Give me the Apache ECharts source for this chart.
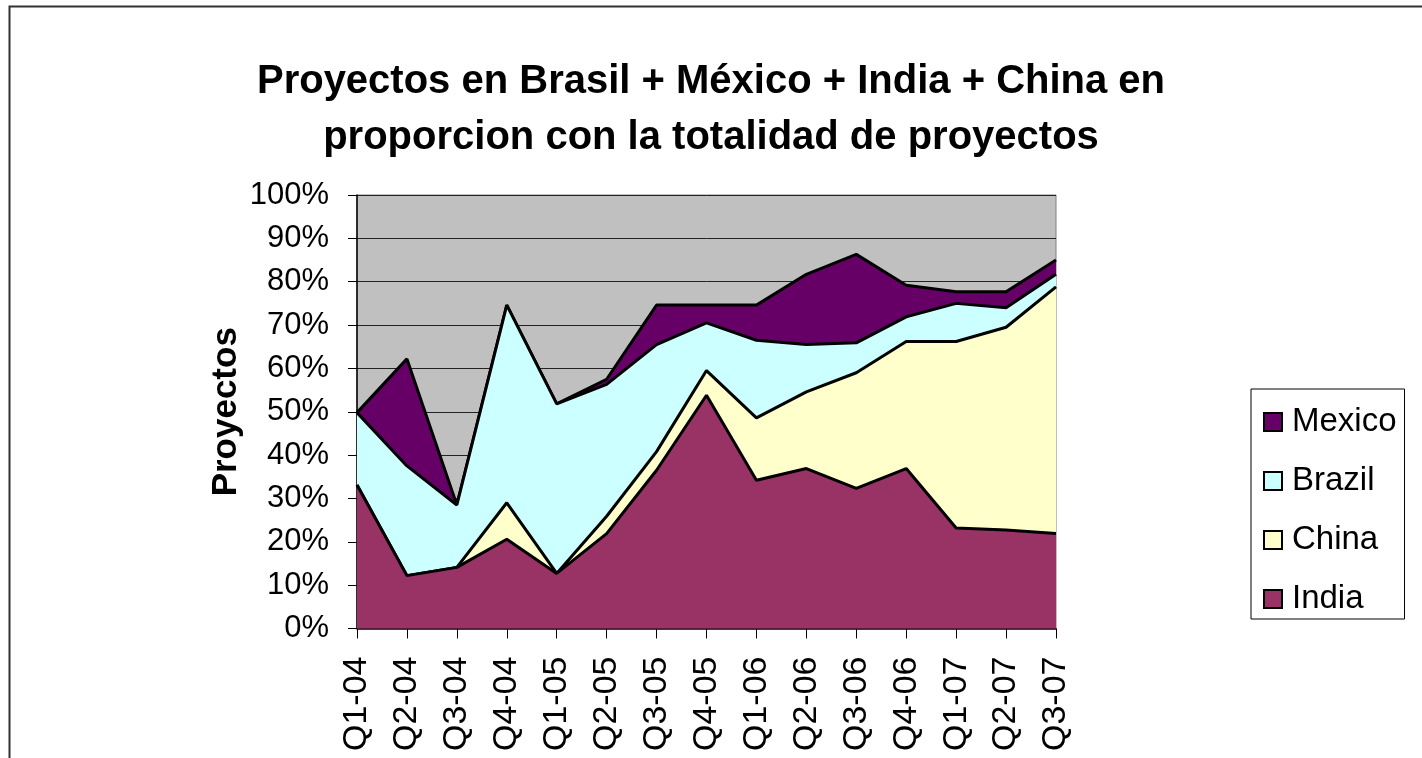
<!DOCTYPE html>
<html>
<head>
<meta charset="utf-8">
<script src="https://cdn.jsdelivr.net/npm/echarts@6/dist/echarts.min.js"></script>
<style>
  html, body { margin: 0; padding: 0; background: #fff; }
  #chart { width: 1422px; height: 758px; }
</style>
</head>
<body>
<div id="chart"></div>
<script>
// quarters on the x axis
const quarters = ['Q1-04', 'Q2-04', 'Q3-04', 'Q4-04', 'Q1-05', 'Q2-05', 'Q3-05', 'Q4-05',
  'Q1-06', 'Q2-06', 'Q3-06', 'Q4-06', 'Q1-07', 'Q2-07', 'Q3-07'];

// share of all projects, in %, stacked bottom to top
const india = [33.1, 12.2, 14.1, 20.6, 12.7, 21.9, 36.5, 53.8, 34.2, 36.9, 32.3, 36.9, 23.2, 22.7, 21.9];
const china = [0, 0, 0, 8.4, 0, 4.0, 4.3, 5.7, 14.4, 17.7, 26.7, 29.3, 43.0, 46.8, 56.9];
const brazil = [16.7, 25.3, 14.4, 45.6, 39.1, 30.4, 24.7, 11.0, 17.9, 10.9, 6.9, 5.7, 8.8, 4.5, 2.9];
const mexico = [0, 24.7, 0, 0, 0, 1.2, 9.1, 4.1, 8.1, 16.2, 20.4, 7.3, 2.7, 3.7, 3.3];

const legendOrder = ['Mexico', 'Brazil', 'China', 'India'];

const chart = echarts.init(document.getElementById('chart'));

// lower layers get a higher z so their outline stays on top of the next fill
function area(name, data, color, z) {
  return {
    name: name,
    type: 'line',
    stack: 'total',
    z: z,
    data: data,
    showSymbol: false,
    symbol: 'none',
    itemStyle: { color: color },
    lineStyle: { color: '#000', width: 3 },
    areaStyle: { color: color, opacity: 1 }
  };
}

const option = {
  animation: false,
  textStyle: { fontFamily: 'Liberation Sans, Arial, sans-serif' },
  graphic: [{
    type: 'rect',
    shape: { x: 9.5, y: 6.5, width: 1430, height: 800 },
    style: { fill: 'none', stroke: '#333', lineWidth: 2 },
    silent: true
  }],
  title: {
    text: 'Proyectos en Brasil + México + India + China en\nproporcion con la totalidad de proyectos',
    left: 'center',
    top: 49,
    textStyle: {
      fontSize: 40,
      fontWeight: 'bold',
      color: '#000',
      lineHeight: 56
    }
  },
  legend: {
    data: legendOrder,
    orient: 'vertical',
    left: 1251,
    top: 389,
    icon: 'rect',
    itemWidth: 18,
    itemHeight: 18,
    itemGap: 23,
    padding: [15, 8, 2, 12],
    borderColor: '#000',
    borderWidth: 1,
    backgroundColor: '#fff',
    itemStyle: { borderColor: '#000', borderWidth: 2 },
    textStyle: { fontSize: 33, color: '#000', lineHeight: 36, padding: [0, 0, 0, 5] }
  },
  grid: {
    left: 357,
    right: 366,
    top: 195,
    bottom: 129.5,
    show: true,
    backgroundColor: '#C0C0C0',
    borderColor: '#808080',
    borderWidth: 1
  },
  xAxis: {
    type: 'category',
    data: quarters,
    boundaryGap: false,
    axisLine: { lineStyle: { color: '#000', width: 1.5 } },
    axisTick: { show: true, length: 10, alignWithLabel: true, lineStyle: { color: '#000' } },
    axisLabel: { rotate: 90, margin: 28, fontSize: 34, color: '#000', interval: 0 }
  },
  yAxis: {
    type: 'value',
    min: 0,
    max: 100,
    interval: 10,
    name: 'Proyectos',
    nameLocation: 'middle',
    nameGap: 113,
    nameRotate: 90,
    nameTextStyle: { fontSize: 35, fontWeight: 'bold', color: '#000' },
    axisLine: { show: true, lineStyle: { color: '#000', width: 1.5 } },
    axisTick: { show: true, length: 9, lineStyle: { color: '#000' } },
    axisLabel: { formatter: '{value}%', margin: 28, fontSize: 31, color: '#000' },
    splitLine: { lineStyle: { color: '#222', width: 1 } }
  },
  series: [
    area('India', india, '#993366', 6),
    area('China', china, '#FFFFCC', 5),
    area('Brazil', brazil, '#CCFFFF', 4),
    area('Mexico', mexico, '#660066', 3)
  ]
};

chart.setOption(option);
</script>
</body>
</html>
